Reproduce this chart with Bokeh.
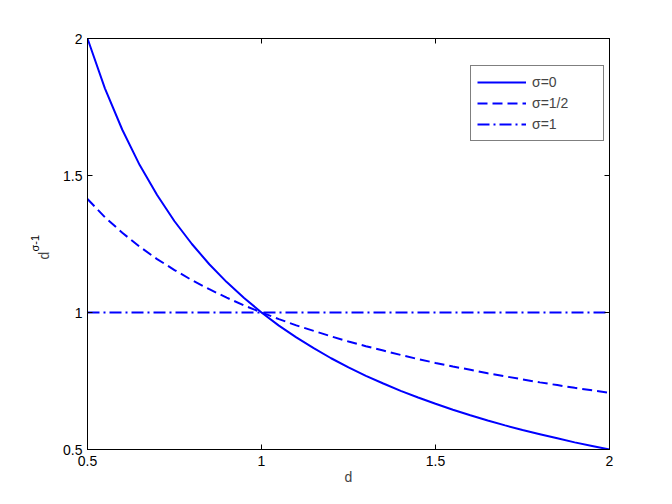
from bokeh.plotting import figure
from bokeh.models import Range1d, LinearAxis, FixedTicker, Legend, LegendItem, Title
from bokeh.embed import file_html
from bokeh.resources import INLINE

# data
d_vals = [0.50, 0.55, 0.60, 0.65, 0.70, 0.75, 0.80, 0.85, 0.90, 0.95, 1.00,
          1.05, 1.10, 1.15, 1.20, 1.25, 1.30, 1.35, 1.40, 1.45, 1.50,
          1.55, 1.60, 1.65, 1.70, 1.75, 1.80, 1.85, 1.90, 1.95, 2.00]
sigma0 = [2.000, 1.818, 1.667, 1.538, 1.429, 1.333, 1.250, 1.176, 1.111, 1.053, 1.000,
          0.952, 0.909, 0.870, 0.833, 0.800, 0.769, 0.741, 0.714, 0.690, 0.667,
          0.645, 0.625, 0.606, 0.588, 0.571, 0.556, 0.541, 0.526, 0.513, 0.500]
sigma_half = [1.414, 1.348, 1.291, 1.240, 1.195, 1.155, 1.118, 1.085, 1.054, 1.026, 1.000,
              0.976, 0.953, 0.933, 0.913, 0.894, 0.877, 0.861, 0.845, 0.830, 0.816,
              0.803, 0.791, 0.778, 0.767, 0.756, 0.745, 0.735, 0.725, 0.716, 0.707]
sigma1 = [1.0] * 31
tick_vals = [0.5, 1.0, 1.5, 2.0]
tick_labels = {0.5: "0.5", 1.0: "1", 1.5: "1.5", 2.0: "2"}
legend_labels = ["σ=0", "σ=1/2", "σ=1"]

FONT = "Liberation Sans"
BLUE = "#0000ff"
NBSP = "\u00a0"

p = figure(width=656, height=488, frame_width=522, frame_height=411,
           x_range=Range1d(0.5, 2.0), y_range=Range1d(0.5, 2.0),
           output_backend="svg", toolbar_location=None,
           min_border_left=87, min_border_right=47, min_border_top=38, min_border_bottom=39)
p.background_fill_color = "white"
p.border_fill_color = "white"
p.outline_line_color = "black"
p.outline_line_width = 1
p.xgrid.visible = False
p.ygrid.visible = False

for ax in (p.xaxis[0], p.yaxis[0]):
    ax.ticker = FixedTicker(ticks=tick_vals)
    ax.major_label_overrides = tick_labels
    ax.major_tick_in = 5
    ax.major_tick_out = 0
    ax.minor_tick_in = 0
    ax.minor_tick_out = 0
    ax.axis_line_color = "black"
    ax.major_tick_line_color = "black"
    ax.major_label_text_font = FONT
    ax.major_label_text_font_size = "14px"
    ax.major_label_text_color = "black"

p.xaxis[0].major_label_standoff = 6
p.yaxis[0].major_label_standoff = 5
p.xaxis[0].axis_label = "d"
p.xaxis[0].axis_label_text_font = FONT
p.xaxis[0].axis_label_text_font_size = "14px"
p.xaxis[0].axis_label_text_font_style = "normal"
p.xaxis[0].axis_label_standoff = 0

# y label base "d" (padded so it sits a little below the axis centre)
p.yaxis[0].axis_label = "d" + NBSP * 6
p.yaxis[0].axis_label_text_font = FONT
p.yaxis[0].axis_label_text_font_size = "14px"
p.yaxis[0].axis_label_text_font_style = "normal"
p.yaxis[0].axis_label_standoff = 8

# mirrored box axes (top / right), ticks only
for loc in ("above", "right"):
    ax = LinearAxis(ticker=FixedTicker(ticks=tick_vals))
    ax.major_tick_in = 5
    ax.major_tick_out = 0
    ax.minor_tick_in = 0
    ax.minor_tick_out = 0
    ax.major_label_overrides = {v: "" for v in tick_vals}
    ax.major_label_standoff = 0
    ax.axis_line_color = "black"
    ax.major_tick_line_color = "black"
    p.add_layout(ax, loc)

r0 = p.line(d_vals, sigma0, line_color=BLUE, line_width=2)
r1 = p.line(d_vals, sigma_half, line_color=BLUE, line_width=2, line_dash="10 5")
r2 = p.line(d_vals, sigma1, line_color=BLUE, line_width=2, line_dash="12 4 2 4")

# superscript of the y label
t_sup = Title(text="σ-1", align="left", offset=198, standoff=-14,
              text_font=FONT, text_font_size="11px", text_font_style="normal",
              text_color="black")
p.add_layout(t_sup, "left")

legend = Legend(items=[LegendItem(label=legend_labels[0], renderers=[r0]),
                       LegendItem(label=legend_labels[1], renderers=[r1]),
                       LegendItem(label=legend_labels[2], renderers=[r2])],
                location=(383, 308))
legend.border_line_color = "black"
legend.border_line_width = 1
legend.background_fill_color = "white"
legend.background_fill_alpha = 1
legend.label_text_font = FONT
legend.label_text_font_size = "14px"
legend.glyph_width = 49
legend.glyph_height = 20
legend.label_width = 65
legend.label_standoff = 6
legend.padding = 6
legend.spacing = 1
legend.margin = 0
p.add_layout(legend, "center")

open("out.html", "w").write(file_html(p, INLINE))
